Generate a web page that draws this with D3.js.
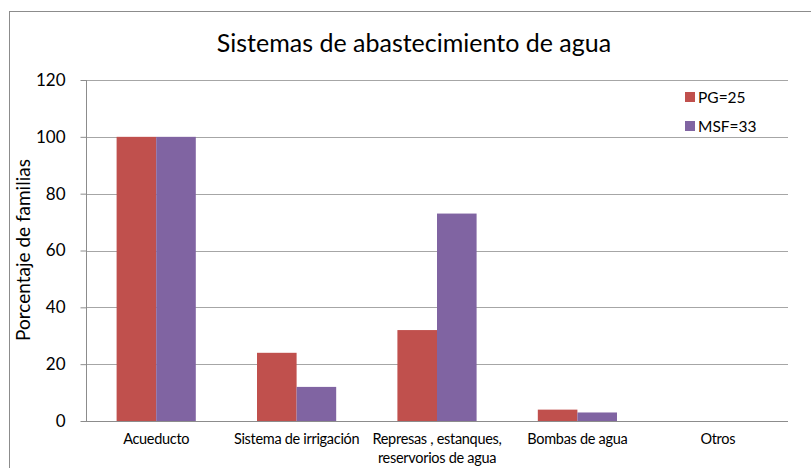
<!DOCTYPE html>
<html>
<head>
<meta charset="utf-8">
<script src="https://cdn.jsdelivr.net/npm/d3@7"></script>
<style>
  body { margin: 0; background: #fff; }
  text { font-family: Lato, "Open Sans", sans-serif; fill: #000; }
</style>
</head>
<body>
<div class="container"></div>
<script>
const categories = ["Acueducto", "Sistema de irrigación", "Represas , estanques,|reservorios de agua", "Bombas de agua", "Otros"]
const seriesNames = ["PG=25", "MSF=33"]
const pgValues = [100, 24, 32, 4, 0]
const msfValues = [100, 12, 73, 3, 0]
const yTicks = [0, 20, 40, 60, 80, 100, 120]
const colors = ["#C0504D", "#8064A2"]

const w = 811
const h = 468
const plotLeft = 86
const plotRight = 788
const plotTop = 80
const plotBottom = 421

const svg = d3.select(".container")
              .append("svg")
              .attr("width", w)
              .attr("height", h)

// outer frame
svg.append("rect")
   .attr("x", 9.5).attr("y", 11.5)
   .attr("width", w + 10).attr("height", h + 10)
   .attr("fill", "none")
   .attr("stroke", "#8c8c8c")

const xScale = d3.scaleBand()
                 .domain(categories)
                 .range([plotLeft, plotRight])

const yScale = d3.scaleLinear()
                 .domain([0, 120])
                 .range([plotBottom, plotTop])

const barW = xScale.bandwidth() * 0.282

// gridlines
svg.append("g")
   .selectAll("line")
   .data(yTicks.filter(d => d > 0))
   .enter()
   .append("line")
   .attr("x1", plotLeft).attr("x2", plotRight)
   .attr("y1", d => Math.round(yScale(d)) + 0.5)
   .attr("y2", d => Math.round(yScale(d)) + 0.5)
   .attr("stroke", "#a6a6a6")

const rows = categories.map((c, i) => ({cat: c, vals: [pgValues[i], msfValues[i]]}))

svg.append("g")
   .selectAll("g")
   .data(rows)
   .enter()
   .append("g")
   .selectAll("rect")
   .data(d => d.vals.map((v, j) => ({cat: d.cat, v: v, j: j})))
   .enter()
   .append("rect")
   .attr("x", d => xScale(d.cat) + xScale.bandwidth() / 2 + (d.j - 1) * barW)
   .attr("y", d => yScale(d.v))
   .attr("width", barW)
   .attr("height", d => plotBottom - yScale(d.v))
   .attr("fill", d => colors[d.j])

// y axis
const yAxis = d3.axisLeft(yScale)
                .tickValues(yTicks)
                .tickSize(6)
                .tickPadding(15)
svg.append("g")
   .attr("transform", "translate(" + (plotLeft + 0.5) + ",0)")
   .call(yAxis)
   .call(g => g.select(".domain").attr("stroke", "#8c8c8c").attr("d", "M0," + plotTop + "V" + plotBottom))
   .call(g => g.selectAll(".tick line").attr("stroke", "#8c8c8c"))
   .call(g => g.selectAll(".tick text").attr("font-size", 17).attr("font-family", "Lato, sans-serif").attr("fill", "#333"))

// x axis baseline
svg.append("line")
   .attr("x1", plotLeft).attr("x2", plotRight)
   .attr("y1", plotBottom + 0.5).attr("y2", plotBottom + 0.5)
   .attr("stroke", "#8c8c8c")

// category labels
const catText = svg.append("g")
   .selectAll("text")
   .data(categories)
   .enter()
   .append("text")
   .attr("x", d => xScale(d) + xScale.bandwidth() / 2)
   .attr("y", 444)
   .attr("text-anchor", "middle")
   .attr("font-size", 14.5)
   .attr("letter-spacing", -0.3)
catText.selectAll("tspan")
   .data(d => d.split("|"))
   .enter()
   .append("tspan")
   .attr("x", function() { return this.parentNode.getAttribute("x") })
   .attr("dy", (d, i) => i === 0 ? 0 : 19)
   .text(d => d)

// title
svg.append("text")
   .attr("x", 414)
   .attr("y", 52)
   .attr("text-anchor", "middle")
   .attr("font-size", 25)
   .text("Sistemas de abastecimiento de agua")

// y label
svg.append("text")
   .attr("transform", "translate(30,250) rotate(-90)")
   .attr("text-anchor", "middle")
   .attr("font-size", 19)
   .text("Porcentaje de familias")

// legend
const legend = svg.append("g")
legend.selectAll("rect")
      .data(seriesNames)
      .enter()
      .append("rect")
      .attr("x", 685)
      .attr("y", (d, i) => 92 + i * 29)
      .attr("width", 10).attr("height", 10)
      .attr("fill", (d, i) => colors[i])
legend.selectAll("text")
      .data(seriesNames)
      .enter()
      .append("text")
      .attr("x", 698)
      .attr("y", (d, i) => 103 + i * 29)
      .attr("font-size", 15.5)
      .text(d => d)
</script>
</body>
</html>
